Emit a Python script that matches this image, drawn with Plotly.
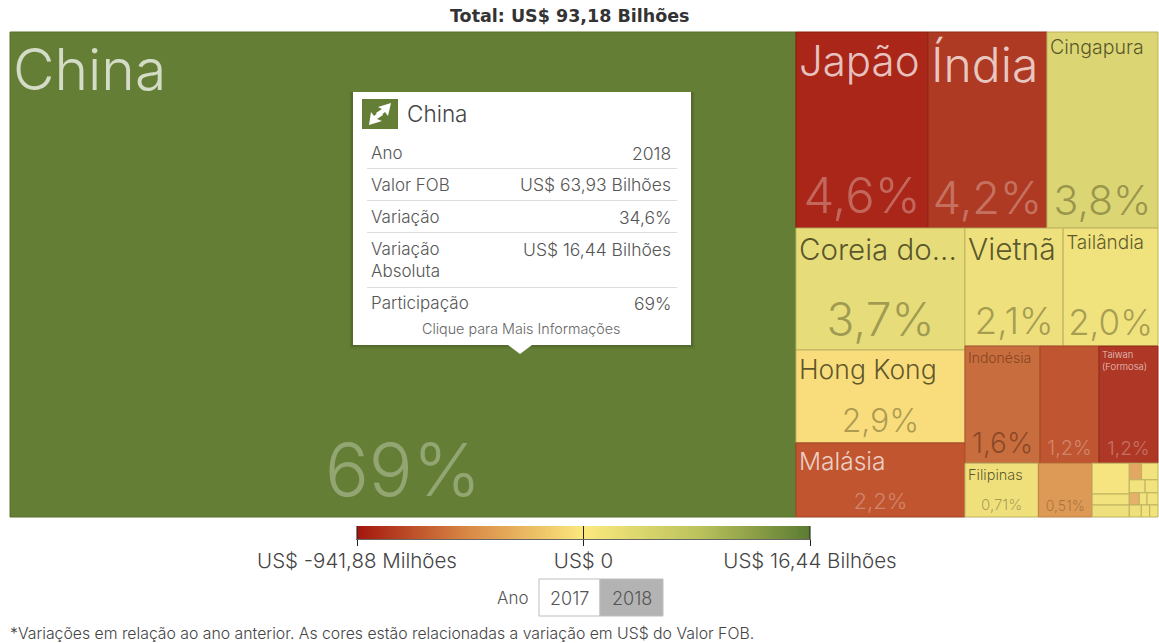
import plotly.graph_objects as go

W, H = 1159, 643
FONT = "Inter"
GREY = "#555555"

# ---------- data ----------
ids = ["Total", "China", "Resto", "LinhaA", "Japão", "Índia", "Cingapura", "LinhaB",
       "ColEsq", "Coreia", "HongKong", "Malásia", "ColDir", "Fila1", "Vietnã", "Tailândia",
       "Fila2", "Indonésia", "Outro12", "Taiwan", "Fila3", "Filipinas", "Outro051",
       "Mini", "Mini2", "MiniE", "m1", "m2", "m3", "MiniD",
       "r1", "m4", "m5", "r2", "m6", "m7", "r3", "m8", "m9", "m10", "r4", "m11", "m12", "m13"]
parents = ["", "Total", "Total", "Resto", "LinhaA", "LinhaA", "LinhaA", "Resto",
           "LinhaB", "ColEsq", "ColEsq", "ColEsq", "LinhaB", "ColDir", "Fila1", "Fila1",
           "ColDir", "Fila2", "Fila2", "Fila2", "ColDir", "Fila3", "Fila3",
           "Fila3", "Mini", "Mini2", "MiniE", "MiniE", "MiniE", "Mini2",
           "MiniD", "r1", "r1", "MiniD", "r2", "r2", "MiniD", "r3", "r3", "r3", "MiniD", "r4", "r4", "r4"]
shares = [0, 68.47, 0, 0, 4.65, 4.19, 3.91, 0,
          0, 3.70, 2.82, 2.25, 0, 0, 2.08, 2.01,
          0, 1.58, 1.24, 1.24, 0, 0.71, 0.52,
          0, 0, 0, 0.206, 0.073, 0.080, 0,
          0, 0.037, 0.049, 0, 0.037, 0.030, 0, 0.022, 0.017, 0.024, 0, 0.026, 0.018, 0.018]
names = {"China": "China", "Japão": "Japão", "Índia": "Índia", "Cingapura": "Cingapura",
         "Coreia": "Coreia do...", "HongKong": "Hong Kong", "Malásia": "Malásia",
         "Vietnã": "Vietnã", "Tailândia": "Tailândia", "Indonésia": "Indonésia",
         "Taiwan": "Taiwan<br>(Formosa)", "Filipinas": "Filipinas"}
pct_labels = {"China": "69%", "Japão": "4,6%", "Índia": "4,2%", "Cingapura": "3,8%",
              "Coreia": "3,7%", "HongKong": "2,9%", "Malásia": "2,2%", "Vietnã": "2,1%",
              "Tailândia": "2,0%", "Indonésia": "1,6%", "Outro12": "1,2%", "Taiwan": "1,2%",
              "Filipinas": "0,71%", "Outro051": "0,51%"}
legend_stops = [-1, -0.5, 0, 0.5, 1]
legend_ticks = [-1, 0, 1]
legend_labels = ["US$ -941,88 Milhões", "US$ 0", "US$ 16,44 Bilhões"]
tooltip_rows = [("Ano", "2018", 153), ("Valor FOB", "US$ 63,93 Bilhões", 185),
                ("Variação", "34,6%", 217), ("Variação", "US$ 16,44 Bilhões", 249),
                ("Absoluta", "", 271), ("Participação", "69%", 303)]

# ---------- styles ----------
fills = {"China": "#647f35", "Japão": "#a92618", "Índia": "#af3a23", "Cingapura": "#dbd573",
         "Coreia": "#e6dc7a", "HongKong": "#f9dc7b", "Malásia": "#c05530", "Vietnã": "#eee07c",
         "Tailândia": "#f0e27d", "Indonésia": "#c86d3e", "Outro12": "#c05531", "Taiwan": "#ae3825",
         "Filipinas": "#efe07c", "Outro051": "#dd9a56", "m1": "#f5e480", "m2": "#f3e37f", "m3": "#eee07c",
         "m4": "#e2a862", "m5": "#f3e37f", "m6": "#f3e37f", "m7": "#f3e37f", "m8": "#e6b06a",
         "m9": "#f3e37f", "m10": "#f3e37f", "m11": "#f0e07c", "m12": "#f3e37f", "m13": "#f3e37f"}
edges = {"China": "#56702c", "Japão": "#8e1c10", "Índia": "#8e2a18", "Malásia": "#a34522",
         "Indonésia": "#a85430", "Outro12": "#a34522", "Taiwan": "#8e2a18", "Outro051": "#c08040"}
name_size = {"China": 57, "Japão": 42, "Índia": 48, "Cingapura": 19.5, "Coreia": 29.5, "HongKong": 26.5,
             "Malásia": 24.5, "Vietnã": 30, "Tailândia": 19, "Indonésia": 14, "Taiwan": 9.5, "Filipinas": 14.5}
pct_size = {"China": 73, "Japão": 49, "Índia": 45, "Cingapura": 41, "Coreia": 46, "HongKong": 32,
            "Malásia": 22, "Vietnã": 37, "Tailândia": 35, "Indonésia": 28, "Outro12": 20, "Taiwan": 19,
            "Filipinas": 15, "Outro051": 14}
dark_cells = {"China", "Japão", "Índia", "Malásia", "Outro12", "Taiwan"}
dark_text = {"Indonésia": ("rgba(70,25,5,0.55)", "rgba(50,20,5,0.42)"),
             "Outro051": ("rgba(70,25,5,0.5)", "rgba(70,30,5,0.35)")}


def name_colour(i):
    if i in dark_text:
        return dark_text[i][0]
    return "rgba(255,255,255,0.72)" if i in dark_cells else "rgba(50,50,20,0.78)"


def pct_colour(i):
    if i in dark_text:
        return dark_text[i][1]
    return "rgba(255,255,255,0.3)" if i in dark_cells else "rgba(60,60,20,0.42)"


dom = dict(x=[10 / W, 1158 / W], y=[1 - 517 / H, 1 - 32 / H])
base = dict(ids=ids, parents=parents, labels=ids, values=shares, branchvalues="remainder", sort=False,
            tiling=dict(packing="slice-dice", pad=0), pathbar=dict(visible=False), domain=dom,
            hoverinfo="skip", textinfo="text")

fig = go.Figure()
fig.add_trace(go.Treemap(
    **base,
    text=[names.get(i, "") for i in ids],
    textposition="top left",
    textfont=dict(family=FONT, weight=300, size=[name_size.get(i, 10) for i in ids],
                  color=[name_colour(i) for i in ids]),
    marker=dict(colors=[fills.get(i, "rgba(0,0,0,0)") for i in ids],
                line=dict(width=[1 if i in fills else 0 for i in ids],
                          color=[edges.get(i, "#bdb25f") for i in ids]),
                pad=dict(t=0, l=0, r=0, b=0)),
))
fig.add_trace(go.Treemap(
    **base,
    text=[pct_labels.get(i, "") for i in ids],
    textposition="bottom center",
    textfont=dict(family=FONT, weight=300, size=[pct_size.get(i, 10) for i in ids],
                  color=[pct_colour(i) for i in ids]),
    marker=dict(colors=["rgba(0,0,0,0)"] * len(ids), line=dict(width=0), pad=dict(t=0, l=0, r=0, b=0)),
))

# colour legend
fig.add_trace(go.Heatmap(
    x=legend_stops, y=[0], z=[legend_stops], zsmooth="best", showscale=False, hoverinfo="skip",
    zmin=-1, zmax=1,
    colorscale=[[0, "#a3170d"], [0.25, "#d98b47"], [0.5, "#fbe97e"], [0.75, "#bcc35d"], [1, "#5b7b32"]],
))
fig.update_xaxes(domain=[357 / W, 810 / W], range=[-1, 1], tickvals=legend_ticks, ticktext=legend_labels,
                 ticks="outside", ticklen=6, tickcolor="#222",
                 tickfont=dict(family=FONT, weight=300, size=20.5, color="#444"),
                 ticklabelstandoff=-3, showgrid=False, zeroline=False, showline=True, linecolor="#666")
fig.update_yaxes(domain=[1 - 539 / H, 1 - 526 / H], range=[-0.5, 0.5], showticklabels=False, ticks="",
                 showgrid=False, zeroline=False, showline=True, linecolor="#888", mirror=True)


def px(x):
    return x / W


def py(y):
    return 1 - y / H


shapes = [dict(type="line", xref="x", yref="y domain", x0=t, x1=t, y0=0, y1=1, line=dict(color="#222", width=1))
          for t in legend_ticks]


def rect(x0, y0, x1, y1, fill, line=None):
    shapes.append(dict(type="rect", xref="paper", yref="paper", x0=px(x0), x1=px(x1), y0=py(y1), y1=py(y0),
                       fillcolor=fill, line=dict(color=line or fill, width=1 if line else 0)))


def poly(points, fill):
    d = "M" + "L".join(f"{px(a):.5f},{py(b):.5f}" for a, b in points) + "Z"
    shapes.append(dict(type="path", xref="paper", yref="paper", path=d, fillcolor=fill, line=dict(width=0)))


def label(x, y, txt, size, color=GREY, anchor="left", family=FONT, weight=300):
    return dict(xref="paper", yref="paper", x=px(x), y=py(y), text=txt,
                showarrow=False, xanchor=anchor, yanchor="middle",
                font=dict(family=family, size=size, color=color, weight=weight), borderpad=0, borderwidth=0)


# tooltip
for off, alpha in ((4, 0.06), (2, 0.10)):
    rect(353 - off, 92, 691 + off, 345 + off, f"rgba(0,0,0,{alpha})")
rect(353, 92, 691, 345, "#ffffff")
poly([(508, 345), (532, 345), (520, 354)], "#ffffff")
rect(362, 99, 398, 129, "#647f35")
poly([(378, 107), (391, 103), (388, 116), (385, 112), (379, 117), (376, 113), (382, 109)], "#ffffff")
poly([(382, 121), (369, 125), (371, 112), (374, 116), (380, 111), (383, 115), (377, 119)], "#ffffff")
for y in (168.5, 200.5, 232.5, 287.5):
    rect(367, y - 0.5, 677, y + 0.5, "#dddddd")
# year selector
rect(539, 579, 600, 616, "#ffffff", "#bdbdbd")
rect(600, 579, 663, 616, "#b3b3b3", "#bdbdbd")

ann = [label(570, 16, "Total: US$ 93,18 Bilhões", 17.5, "#333333", "center", "DejaVu Sans", 700),
       label(407, 114, "China", 22.5, "#444444"),
       label(521, 328, "Clique para Mais Informações", 14.3, "#666666", "center"),
       label(497, 598, "Ano", 17),
       label(569.5, 598, "2017", 18, GREY, "center"),
       label(631.5, 598, "2018", 18, GREY, "center"),
       label(10, 633, "*Variações em relação ao ano anterior. As cores estão relacionadas a variação em US$ do Valor FOB.", 15.8, "#444444")]
for left, right, y in tooltip_rows:
    ann.append(label(371, y, left, 17))
    if right:
        ann.append(label(671, y, right, 17.5, GREY, "right"))

fig.update_layout(width=W, height=H, margin=dict(l=0, r=0, t=0, b=0, autoexpand=False), paper_bgcolor="white",
                  plot_bgcolor="white", showlegend=False, shapes=shapes, annotations=ann)
fig.write_html("out.html", config={"displayModeBar": False}, post_script="document.body.style.margin='0';")
